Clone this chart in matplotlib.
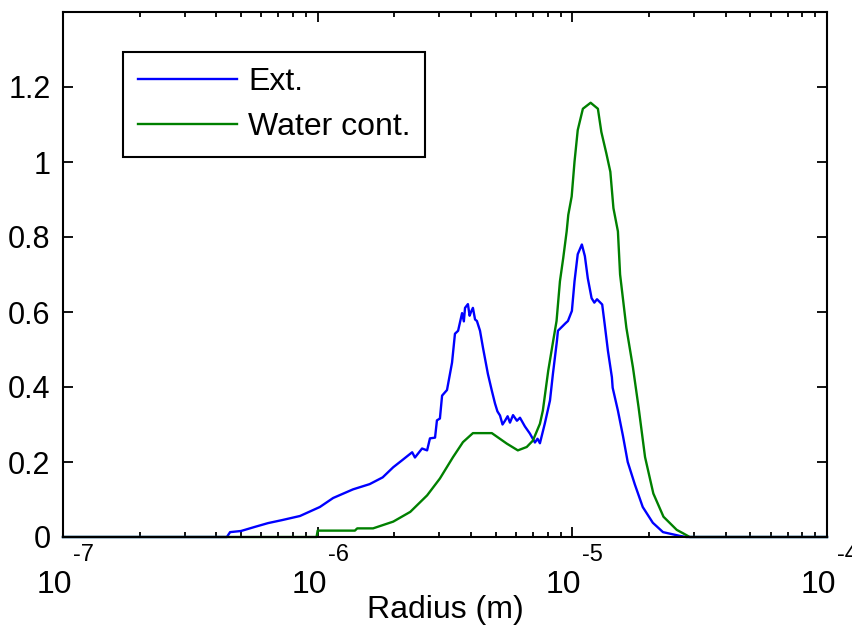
import matplotlib
matplotlib.use("Agg")
import matplotlib.pyplot as plt
import matplotlib.transforms as mtransforms
import numpy as np
from matplotlib.ticker import FuncFormatter, LogLocator, NullFormatter

plt.rcParams['font.family'] = ['Liberation Sans', 'DejaVu Sans']

# radius in micrometres
ext_r_um = [0.10, 0.44, 0.453, 0.50, 0.567, 0.638, 0.724, 0.852, 1.02, 1.15, 1.376, 1.60,
            1.80, 1.98, 2.14, 2.35, 2.41, 2.57, 2.69, 2.76, 2.89, 2.94, 3.02, 3.08, 3.22,
            3.37, 3.46, 3.56, 3.69, 3.75, 3.79, 3.89, 3.95, 4.00, 4.07, 4.15, 4.22, 4.34,
            4.46, 4.66, 4.83, 4.97, 5.08, 5.20, 5.32, 5.44, 5.57, 5.69, 5.85, 6.06, 6.23,
            6.51, 6.81, 7.13, 7.30, 7.46, 7.80, 8.17, 8.39, 8.70, 8.78, 9.18, 9.40, 9.61,
            9.96, 10.2, 10.5, 10.9, 11.2, 11.5, 11.9, 12.2, 12.5, 13.1, 13.4, 13.8, 14.3,
            14.4, 15.1, 15.8, 16.5, 17.6, 18.9, 20.7, 22.7, 26.4, 28.0, 100.0]
ext_val = [0.0, 0.0, 0.013, 0.016, 0.027, 0.037, 0.045, 0.056, 0.080, 0.104, 0.127, 0.141,
           0.159, 0.186, 0.204, 0.226, 0.212, 0.236, 0.231, 0.263, 0.265, 0.311, 0.316, 0.377, 0.392,
           0.465, 0.542, 0.550, 0.597, 0.575, 0.611, 0.621, 0.590, 0.600, 0.611, 0.580, 0.576, 0.550,
           0.504, 0.435, 0.390, 0.356, 0.335, 0.324, 0.300, 0.310, 0.322, 0.305, 0.325, 0.310, 0.318,
           0.295, 0.276, 0.252, 0.262, 0.250, 0.303, 0.364, 0.435, 0.523, 0.550, 0.563, 0.570, 0.576,
           0.603, 0.682, 0.754, 0.780, 0.749, 0.690, 0.637, 0.625, 0.634, 0.620, 0.567, 0.496, 0.426,
           0.398, 0.337, 0.270, 0.200, 0.140, 0.080, 0.038, 0.013, 0.003, 0.0, 0.0]

wat_r_um = [0.10, 0.99, 1.0, 1.40, 1.43, 1.65, 1.98, 2.31, 2.69, 3.02, 3.40, 3.72, 4.07,
            4.83, 5.53, 6.11, 6.62, 7.00, 7.46, 7.66, 8.04, 8.41, 8.67, 8.94, 9.21, 9.50,
            9.64, 9.94, 10.2, 10.5, 11.0, 11.8, 12.6, 13.0, 13.6, 14.1, 14.5, 15.1, 15.4,
            16.3, 17.3, 18.2, 19.3, 20.8, 22.8, 25.7, 27.2, 28.9, 100.0]
wat_val = [0.0, 0.0, 0.017, 0.017, 0.023, 0.023, 0.041, 0.067, 0.111, 0.156, 0.213, 0.253, 0.277,
           0.277, 0.249, 0.231, 0.240, 0.257, 0.302, 0.337, 0.443, 0.523, 0.576, 0.682, 0.744, 0.815,
           0.859, 0.908, 1.001, 1.085, 1.142, 1.158, 1.142, 1.080, 1.023, 0.974, 0.877, 0.815, 0.700,
           0.558, 0.452, 0.346, 0.213, 0.116, 0.054, 0.019, 0.010, 0.0, 0.0]

labels = ['Ext.', 'Water cont.']
yticks = [0, 0.2, 0.4, 0.6, 0.8, 1, 1.2]
xdecades = [-7, -6, -5, -4]

ext_r = np.array(ext_r_um) * 1e-6
wat_r = np.array(wat_r_um) * 1e-6

fig = plt.figure(figsize=(8.52, 6.36), dpi=100)
ax = fig.add_axes([63/852, 1-537/636, (827-63)/852, (537-12)/636])

ax.plot(ext_r, ext_val, color=(0, 0, 1), lw=1.7, label=labels[0], clip_on=False)
ax.plot(wat_r, wat_val, color=(0, 0.5, 0), lw=1.7, label=labels[1], clip_on=False)

ax.set_xscale('log')
ax.set_xlim(1e-7, 1e-4)
ax.set_ylim(0, 1.4)
ax.set_yticks(yticks)
ax.yaxis.set_major_formatter(FuncFormatter(lambda v, p: '%g' % v))
ax.xaxis.set_major_locator(LogLocator(base=10, numticks=10))
ax.xaxis.set_minor_locator(LogLocator(base=10, subs=np.arange(2, 10), numticks=20))
ax.xaxis.set_major_formatter(NullFormatter())
ax.xaxis.set_minor_formatter(NullFormatter())

ax.tick_params(which='both', direction='in', top=True, right=True, labelsize=22, width=1.3)
ax.tick_params(which='major', length=7)
ax.tick_params(which='minor', length=3.5)
ax.tick_params(axis='y', pad=9)
for s in ax.spines.values():
    s.set_linewidth(1.5)

# MATLAB-style "10" with raised exponent under each decade
trans = ax.get_xaxis_transform()
for d in xdecades:
    t_base = mtransforms.offset_copy(trans, fig=fig, x=9, y=-56, units='dots')
    ax.text(10.0**d, 0, '10', transform=t_base, ha='right', va='baseline',
            fontsize=23, clip_on=False)
    t_exp = mtransforms.offset_copy(trans, fig=fig, x=10, y=-24, units='dots')
    ax.text(10.0**d, 0, '-%d' % abs(d), transform=t_exp, ha='left', va='baseline',
            fontsize=17, clip_on=False)

ax.set_xlabel('Radius (m)', fontsize=23)
ax.xaxis.set_label_coords(0.5, (537-595)/525)

leg = ax.legend(loc='upper left', bbox_to_anchor=((123-63)/764, (537-52)/525), borderaxespad=0,
                fontsize=23, fancybox=False, framealpha=1, edgecolor='black',
                handlelength=3.1, handletextpad=0.34, labelspacing=0.47, borderpad=0.47)
leg.get_frame().set_linewidth(1.5)

fig.savefig('out.png', dpi=100)
